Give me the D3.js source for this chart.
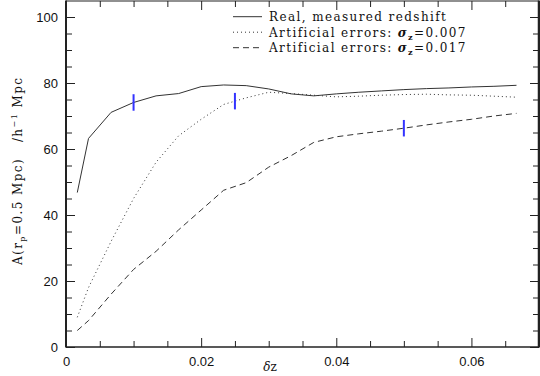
<!DOCTYPE html>
<html>
<head>
<meta charset="utf-8">
<script src="https://cdn.jsdelivr.net/npm/d3@7"></script>
<style>
  body { margin: 0; background: #fff; }
  svg { display: block; }
  .tick text { font-family: "Liberation Sans", Arial, sans-serif; font-size: 13px; fill: #111; }
  .lab { font-family: "DejaVu Serif", serif; font-size: 12px; fill: #111; }
  .leg { letter-spacing: 1.4px; }
</style>
</head>
<body>
<svg id="chart" width="540" height="376"></svg>
<script>
// shift values (delta z)
var dz = [0.00167, 0.00333, 0.00667, 0.01, 0.01333, 0.01667, 0.02, 0.02333, 0.02667, 0.03, 0.03333,
          0.03667, 0.04, 0.04333, 0.04667, 0.05, 0.05333, 0.05667, 0.06, 0.06333, 0.06667];
// A(rp=0.5 Mpc) for each case
var realZ = [46.8, 63.2, 71.1, 74.1, 76.1, 76.8, 78.9, 79.4, 79.2, 78.2, 76.7,
             76.1, 76.7, 77.2, 77.6, 78.0, 78.3, 78.5, 78.8, 79.0, 79.3];
var err007 = [9.0, 18.0, 32.0, 45.0, 56.0, 64.0, 69.0, 73.5, 75.5, 77.2, 76.8,
              76.3, 75.8, 76.0, 76.3, 76.5, 76.6, 76.4, 76.3, 76.0, 75.7];
var err017 = [5.0, 8.0, 16.0, 23.5, 29.0, 35.5, 41.5, 47.5, 49.8, 54.5, 58.0,
              62.0, 63.7, 64.6, 65.4, 66.3, 67.3, 68.2, 69.0, 70.0, 70.8];
// marked error bars: [dz, A, half-length]
var errBars = [[0.01, 74.1, 2.5], [0.025, 74.5, 2.5], [0.05, 66.3, 2.5]];
var xMajor = [0, 0.02, 0.04, 0.06];
var yMajor = [0, 20, 40, 60, 80, 100];

var svg = d3.select('#chart');
var x = d3.scaleLinear().domain([0, 0.07]).range([66, 539]);
var y = d3.scaleLinear().domain([0, 105]).range([347, 0.5]);

var xMinor = d3.range(0, 0.0701, 0.005).filter(function(v){ return Math.abs(v/0.02 - Math.round(v/0.02)) > 1e-6; });
var yMinor = d3.range(0, 105, 5).filter(function(v){ return v % 20 !== 0; });

function tidy(g){ g.select('.domain').remove(); g.selectAll('line').attr('stroke', '#222'); }

// bottom
svg.append('g').attr('transform', 'translate(0,347)')
  .call(d3.axisBottom(x).tickValues(xMajor).tickSize(-9).tickPadding(10)
    .tickFormat(function(d){ return d === 0 ? '0' : d3.format('.2f')(d); }))
  .call(tidy);
svg.append('g').attr('transform', 'translate(0,347)')
  .call(d3.axisBottom(x).tickValues(xMinor).tickSize(-6).tickFormat(''))
  .call(tidy);
// top
svg.append('g').attr('transform', 'translate(0,1)')
  .call(d3.axisTop(x).tickValues(xMajor).tickSize(-9).tickFormat(''))
  .call(tidy);
svg.append('g').attr('transform', 'translate(0,1)')
  .call(d3.axisTop(x).tickValues(xMinor).tickSize(-6).tickFormat(''))
  .call(tidy);
// left
svg.append('g').attr('transform', 'translate(66,0)')
  .call(d3.axisLeft(y).tickValues(yMajor).tickSize(-9).tickPadding(8))
  .call(tidy);
svg.append('g').attr('transform', 'translate(66,0)')
  .call(d3.axisLeft(y).tickValues(yMinor).tickSize(-6).tickFormat(''))
  .call(tidy);
// right
svg.append('g').attr('transform', 'translate(539,0)')
  .call(d3.axisRight(y).tickValues(yMajor).tickSize(-9).tickFormat(''))
  .call(tidy);
svg.append('g').attr('transform', 'translate(539,0)')
  .call(d3.axisRight(y).tickValues(yMinor).tickSize(-6).tickFormat(''))
  .call(tidy);

// frame
svg.append('line').attr('x1', 66).attr('x2', 539).attr('y1', 1).attr('y2', 1).attr('stroke', '#222').attr('stroke-width', 1.2);
svg.append('line').attr('x1', 66).attr('x2', 539).attr('y1', 347).attr('y2', 347).attr('stroke', '#222').attr('stroke-width', 1.5);
svg.append('line').attr('x1', 66).attr('x2', 66).attr('y1', 0.5).attr('y2', 347.5).attr('stroke', '#222').attr('stroke-width', 2);
svg.append('line').attr('x1', 539).attr('x2', 539).attr('y1', 0.5).attr('y2', 347.5).attr('stroke', '#222').attr('stroke-width', 2.5);

// curves
var series = [
  { vals: realZ, dash: null, label: 'Real, measured redshift', sigma: null },
  { vals: err007, dash: '1,3', label: 'Artificial errors: ', sigma: '=0.007' },
  { vals: err017, dash: '6,4', label: 'Artificial errors: ', sigma: '=0.017' }
];
var line = d3.line().x(function(d){ return x(d[0]); }).y(function(d){ return y(d[1]); });
series.forEach(function(s){
  svg.append('path')
    .attr('d', line(d3.zip(dz, s.vals)))
    .attr('fill', 'none').attr('stroke', '#333').attr('stroke-width', 1)
    .attr('stroke-dasharray', s.dash);
});

// error bars
errBars.forEach(function(b){
  svg.append('line')
    .attr('x1', x(b[0])).attr('x2', x(b[0]))
    .attr('y1', y(b[1] - b[2])).attr('y2', y(b[1] + b[2]))
    .attr('stroke', '#3333ff').attr('stroke-width', 2);
});

// legend
series.forEach(function(s, i){
  var ly = 16.7 + i * 15.5;
  svg.append('line').attr('x1', 233).attr('x2', 262).attr('y1', ly).attr('y2', ly)
    .attr('stroke', '#333').attr('stroke-width', 1).attr('stroke-dasharray', s.dash);
  var t = svg.append('text').attr('class', 'lab leg').attr('x', 269).attr('y', ly + 4.5);
  t.append('tspan').text(s.label.replace(/ /g, '\u00a0'));
  if (s.sigma) {
    t.append('tspan').attr('font-style', 'italic').attr('font-weight', 'bold').text('σ');
    t.append('tspan').attr('font-size', '8px').attr('font-weight', 'bold').attr('dy', 3).text('z');
    t.append('tspan').attr('dy', -3).text(s.sigma);
  }
});

// axis titles
svg.append('text').attr('class', 'lab').attr('x', 270).attr('y', 371)
  .attr('text-anchor', 'middle').attr('font-size', '13px')
  .call(function(t){
    t.append('tspan').attr('font-style', 'italic').text('δ');
    t.append('tspan').text('z');
  });

var yl = svg.append('text').attr('class', 'lab')
  .attr('transform', 'translate(22,265) rotate(-90)')
  .attr('textLength', 187).attr('lengthAdjust', 'spacing');
yl.append('tspan').text('A(r');
yl.append('tspan').attr('font-size', '8px').attr('dy', 3).text('p');
yl.append('tspan').attr('dy', -3).text('=0.5\u00a0Mpc)\u00a0\u00a0\u00a0/h');
yl.append('tspan').attr('font-size', '8px').attr('dy', -5).text('−1');
yl.append('tspan').attr('dy', 5).text('\u00a0Mpc');
</script>
</body>
</html>
